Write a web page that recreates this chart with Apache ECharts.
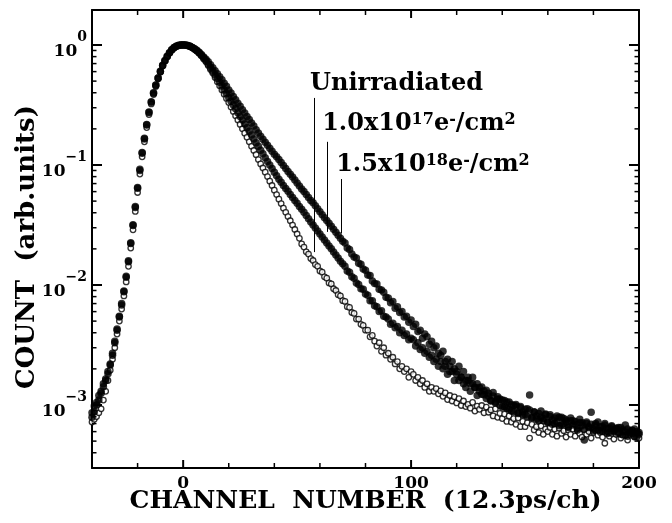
<!DOCTYPE html>
<html>
<head>
<meta charset="utf-8">
<script src="https://cdn.jsdelivr.net/npm/echarts@6/dist/echarts.min.js"></script>
<style>
html, body { margin: 0; padding: 0; background: #fff; }
#chart { width: 672px; height: 523px; }
</style>
</head>
<body>
<div id="chart"></div>
<script>
// Positron lifetime spectra, one value per channel from channel -40 to 200.
const firstChannel = -40;

// Unirradiated sample (open circles)
const countsUnirradiated = [
  7.2e-4, 7.6e-4, 8.0e-4, 8.6e-4, 9.3e-4, 1.1e-3, 1.3e-3, 1.6e-3, 1.95e-3, 2.4e-3,
  3.0e-3, 3.9e-3, 5.0e-3, 6.3e-3, 8.1e-3, 0.0106, 0.0143, 0.0203, 0.0288, 0.041,
  0.059, 0.084, 0.117, 0.156, 0.205, 0.263, 0.323, 0.386, 0.451, 0.521,
  0.594, 0.668, 0.735, 0.799, 0.857, 0.909, 0.949, 0.976, 0.992, 1.0,
  1.0,
  0.998, 0.986, 0.971, 0.951, 0.920, 0.891, 0.855, 0.813, 0.766, 0.724,
  0.676, 0.624, 0.583, 0.537, 0.495, 0.457, 0.422, 0.389, 0.359, 0.331,
  0.304, 0.279, 0.257, 0.237, 0.218, 0.200, 0.184, 0.170, 0.156, 0.143,
  0.132, 0.122, 0.111, 0.102, 0.0944, 0.0871, 0.0800, 0.0733, 0.0675, 0.0617,
  0.0567, 0.0519, 0.0477, 0.0437, 0.0403, 0.0372, 0.0343, 0.0316, 0.0290, 0.0266,
  0.0245, 0.0220, 0.0207, 0.0189, 0.0181, 0.0166, 0.0160, 0.0148, 0.0143, 0.0131,
  0.0128, 0.0117, 0.0114, 0.0104, 0.0102, 0.0093, 0.0090, 0.0083, 0.0081, 0.0074,
  0.0073, 0.0066, 0.0065, 0.0059, 0.0058, 0.0052, 0.0052, 0.0047, 0.0046, 0.0042,
  0.0042, 0.0037, 0.0038, 0.0034, 0.0031, 0.0033, 0.0028, 0.0030, 0.0026, 0.0027,
  0.0024, 0.0025, 0.0022, 0.0023, 0.0020, 0.0021, 0.0019, 0.0020, 0.0017, 0.0019,
  0.0018, 0.0016, 0.0017, 0.0015, 0.0016, 0.0014, 0.0015, 0.0013, 0.0014, 0.0013,
  0.00137, 0.00124, 0.00131, 0.00118, 0.00126, 0.00111, 0.00120, 0.00108, 0.00117, 0.00104,
  0.00113, 0.00099, 0.00108, 0.00097, 0.00101, 0.00094, 0.00105, 0.00089, 0.00098, 0.00092,
  0.00099, 0.00086, 0.00096, 0.00087, 0.00091, 0.00081, 0.00093, 0.00079, 0.00085, 0.00077,
  0.00084, 0.00073, 0.00081, 0.00072, 0.00077, 0.00069, 0.00078, 0.00066, 0.00073, 0.00066,
  0.00071, 0.00053, 0.00069, 0.00062, 0.00066, 0.00059, 0.00067, 0.00057, 0.00063, 0.00060,
  0.00065, 0.00057, 0.00063, 0.00055, 0.00064, 0.00058, 0.00061, 0.00054, 0.00062, 0.00057,
  0.00063, 0.00055, 0.00061, 0.00058, 0.00054, 0.00062, 0.00057, 0.00060, 0.00053, 0.00059,
  0.00061, 0.00056, 0.00059, 0.00054, 0.00048, 0.00060, 0.00055, 0.00058, 0.00052, 0.00057,
  0.00059, 0.00053, 0.00056, 0.00060, 0.00051, 0.00057, 0.00062, 0.00054, 0.00058, 0.00053
];

// 1.0x10^17 e-/cm^2 (filled circles)
const counts1e17 = [
  7.9e-4, 8.8e-4, 1.05e-3, 1.1e-3, 1.25e-3, 1.42e-3, 1.6e-3, 1.82e-3, 2.15e-3, 2.6e-3,
  3.3e-3, 4.2e-3, 5.4e-3, 6.8e-3, 8.8e-3, 0.0116, 0.0156, 0.0222, 0.0313, 0.0442,
  0.064, 0.090, 0.125, 0.165, 0.215, 0.274, 0.334, 0.397, 0.461, 0.530,
  0.602, 0.675, 0.740, 0.803, 0.860, 0.911, 0.950, 0.977, 0.992, 1.0,
  1.0,
  0.998, 0.989, 0.975, 0.955, 0.926, 0.897, 0.862, 0.822, 0.781, 0.741,
  0.692, 0.646, 0.603, 0.562, 0.525, 0.490, 0.455, 0.422, 0.392, 0.363,
  0.339, 0.316, 0.294, 0.272, 0.254, 0.237, 0.220, 0.204, 0.191, 0.178,
  0.165, 0.153, 0.143, 0.133, 0.124, 0.115, 0.107, 0.100, 0.0933, 0.0871,
  0.0813, 0.0759, 0.0717, 0.0676, 0.0638, 0.0603, 0.0569, 0.0537, 0.0507, 0.0479,
  0.0452, 0.0427, 0.0403, 0.0380, 0.0357, 0.0335, 0.0316, 0.0299, 0.0282, 0.0266,
  0.0251, 0.0237, 0.0224, 0.0211, 0.0200, 0.0188, 0.0178, 0.0168, 0.0158, 0.0150,
  0.0143, 0.0131, 0.0128, 0.0117, 0.0114, 0.0104, 0.0101, 0.0093, 0.0092, 0.0084,
  0.0082, 0.0074, 0.0074, 0.0067, 0.0066, 0.0060, 0.0061, 0.0055, 0.0054, 0.0052,
  0.0047, 0.0048, 0.0044, 0.0045, 0.0040, 0.0042, 0.0038, 0.0039, 0.0035, 0.0036,
  0.0035, 0.0031, 0.0033, 0.0029, 0.0030, 0.0027, 0.0028, 0.0025, 0.0026, 0.0023,
  0.0024, 0.0021, 0.0023, 0.0020, 0.0021, 0.0018, 0.0019, 0.0019, 0.0016, 0.0018,
  0.0016, 0.0017, 0.0015, 0.0014, 0.0016, 0.0013, 0.0015, 0.0014, 0.0012, 0.0014,
  0.00123, 0.00131, 0.00113, 0.00125, 0.00108, 0.00119, 0.00104, 0.00112, 0.00099, 0.00110,
  0.00096, 0.00106, 0.00092, 0.00101, 0.00088, 0.00098, 0.00086, 0.00095, 0.00083, 0.00092,
  0.00080, 0.00091, 0.00078, 0.00087, 0.00076, 0.00085, 0.00079, 0.00074, 0.00083, 0.00071,
  0.00080, 0.00069, 0.00078, 0.00072, 0.00067, 0.00079, 0.00070, 0.00075, 0.00065, 0.00074,
  0.00068, 0.00073, 0.00062, 0.00071, 0.00067, 0.00063, 0.00072, 0.00065, 0.00069, 0.00061,
  0.00070, 0.00062, 0.00066, 0.00060, 0.00068, 0.00063, 0.00059, 0.00066, 0.00061, 0.00064,
  0.00058, 0.00065, 0.00060, 0.00056, 0.00063, 0.00059, 0.00061, 0.00055, 0.00060, 0.00057
];

// 1.5x10^18 e-/cm^2 (filled circles)
const counts15e18 = [
  8.6e-4, 9.8e-4, 1.0e-3, 1.2e-3, 1.3e-3, 1.5e-3, 1.65e-3, 1.9e-3, 2.2e-3, 2.7e-3,
  3.4e-3, 4.3e-3, 5.5e-3, 7.0e-3, 8.9e-3, 0.0118, 0.0159, 0.0225, 0.0318, 0.045,
  0.065, 0.092, 0.127, 0.167, 0.217, 0.276, 0.336, 0.399, 0.463, 0.532,
  0.604, 0.677, 0.742, 0.805, 0.862, 0.913, 0.952, 0.978, 0.994, 1.0,
  1.0,
  0.998, 0.989, 0.977, 0.955, 0.930, 0.902, 0.871, 0.832, 0.794, 0.759,
  0.724, 0.684, 0.646, 0.610, 0.575, 0.543, 0.513, 0.479, 0.452, 0.422,
  0.398, 0.372, 0.350, 0.327, 0.309, 0.288, 0.271, 0.254, 0.239, 0.224,
  0.211, 0.197, 0.185, 0.174, 0.164, 0.155, 0.146, 0.138, 0.130, 0.123,
  0.117, 0.111, 0.105, 0.0989, 0.0933, 0.0881, 0.0838, 0.0794, 0.0750, 0.0708,
  0.0668, 0.0631, 0.0600, 0.0569, 0.0537, 0.0507, 0.0484, 0.0457, 0.0431, 0.0407,
  0.0384, 0.0363, 0.0345, 0.0327, 0.0309, 0.0292, 0.0275, 0.0260, 0.0245, 0.0232,
  0.0224, 0.0203, 0.0198, 0.0181, 0.0171, 0.0168, 0.0152, 0.0149, 0.0136, 0.0133,
  0.0121, 0.0120, 0.0108, 0.0103, 0.0102, 0.0092, 0.0091, 0.0087, 0.0079, 0.0078,
  0.0071, 0.0073, 0.0064, 0.0066, 0.0059, 0.0060, 0.0054, 0.0055, 0.0049, 0.0051,
  0.0045, 0.0047, 0.0041, 0.0042, 0.0036, 0.0039, 0.0037, 0.0032, 0.0034, 0.0030,
  0.0031, 0.0027, 0.0026, 0.0028, 0.0023, 0.0024, 0.0021, 0.0023, 0.0020, 0.0019,
  0.0021, 0.0017, 0.0019, 0.0016, 0.0017, 0.0015, 0.0017, 0.0014, 0.0015, 0.0013,
  0.00141, 0.00122, 0.00133, 0.00118, 0.00109, 0.00127, 0.00106, 0.00117, 0.00112, 0.00096,
  0.00109, 0.00094, 0.00106, 0.00089, 0.00099, 0.00101, 0.00085, 0.00097, 0.00088, 0.00083,
  0.00093, 0.00121, 0.00079, 0.00088, 0.00081, 0.00074, 0.00089, 0.00077, 0.00084, 0.00072,
  0.00083, 0.00075, 0.00070, 0.00081, 0.00079, 0.00068, 0.00077, 0.00072, 0.00066, 0.00078,
  0.00074, 0.00069, 0.00064, 0.00076, 0.00071, 0.00051, 0.00070, 0.00066, 0.00087, 0.00063,
  0.00068, 0.00072, 0.00061, 0.00066, 0.00070, 0.00058, 0.00064, 0.00067, 0.00060, 0.00063,
  0.00065, 0.00057, 0.00062, 0.00068, 0.00055, 0.00061, 0.00058, 0.00063, 0.00054, 0.00059
];

// Axis ticks
const xMajorTicks = [0, 100, 200];
const xMinorTicks = [-20, 20, 40, 60, 80, 120, 140, 160, 180];
const yDecades = [1, 0.1, 0.01, 0.001];
const yMinorTicks = [
  0.9, 0.8, 0.7, 0.6, 0.5, 0.4, 0.3, 0.2,
  0.09, 0.08, 0.07, 0.06, 0.05, 0.04, 0.03, 0.02,
  0.009, 0.008, 0.007, 0.006, 0.005, 0.004, 0.003, 0.002,
  0.0009, 0.0008, 0.0007, 0.0006, 0.0005, 0.0004
];

// Curve labels and their leader lines (channel, count)
const curveLabels = [
  '{t|Unirradiated}',
  '{t|1.0x10}{s|17}{t|e}{s|-}{t|/cm}{s|2}',
  '{t|1.5x10}{s|18}{t|e}{s|-}{t|/cm}{s|2}'
];
const labelChannel = [55.9, 61.2, 67.35];
const labelCount = [0.371, 0.172, 0.0794];
const leaderChannel = [57.7, 63.1, 69.2];
const leaderTop = [0.362, 0.156, 0.0764];
const leaderBottom = [0.0188, 0.0277, 0.027];

const FONT = 'DejaVu Serif';

function toPairs(values) {
  return values.map((v, i) => [firstChannel + i, v]);
}

const xRange = { min: -40, max: 200 };
const yRange = { min: 2.985e-4, max: 1.957 };

// The y axes stay on the frame edges: they are tied to a hidden x axis
// whose extent does not include zero.
const FRAME_X_AXIS = 2;

const frameLine = { show: true, onZeroAxisIndex: FRAME_X_AXIS, lineStyle: { color: '#000', width: 2 } };

const xAxes = [
  {
    type: 'value', position: 'bottom', min: xRange.min, max: xRange.max, interval: 20,
    axisLine: { show: true, lineStyle: { color: '#000', width: 2 } },
    axisTick: { show: false }, splitLine: { show: false },
    axisLabel: { show: true, customValues: xMajorTicks, margin: 7, color: '#000',
                 fontFamily: FONT, fontWeight: 'bold', fontSize: 17 },
    name: 'CHANNEL  NUMBER  (12.3ps/ch)', nameLocation: 'middle', nameGap: 21, nameMoveOverlap: false,
    nameTextStyle: { fontFamily: FONT, fontWeight: 'bold', fontSize: 25, color: '#000' }
  },
  {
    type: 'value', position: 'top', min: xRange.min, max: xRange.max, interval: 20,
    axisLine: { show: true, lineStyle: { color: '#000', width: 2 } },
    axisTick: { show: false }, splitLine: { show: false }, axisLabel: { show: false }
  },
  { type: 'value', show: false, min: 1, max: 2 }
];

const yAxes = [
  {
    type: 'log', logBase: 10, position: 'left', min: yRange.min, max: yRange.max,
    axisLine: frameLine, axisTick: { show: false }, splitLine: { show: false },
    axisLabel: {
      show: true, customValues: yDecades, margin: 5,
      formatter: function (v) {
        const e = Math.round(Math.log10(v));
        return '{b|10}{s|' + (e < 0 ? '\u2212' + (-e) : String(e)) + '}';
      },
      rich: {
        b: { fontFamily: FONT, fontWeight: 'bold', fontSize: 17, color: '#000', lineHeight: 30, verticalAlign: 'bottom' },
        s: { fontFamily: FONT, fontWeight: 'bold', fontSize: 14, color: '#000', lineHeight: 14, verticalAlign: 'top' }
      }
    },
    name: 'COUNT  (arb.units)', nameLocation: 'middle', nameGap: 52, nameMoveOverlap: false,
    nameTextStyle: { fontFamily: FONT, fontWeight: 'bold', fontSize: 26, color: '#000', padding: [0, 16, 0, 0] }
  },
  {
    type: 'log', logBase: 10, position: 'right', min: yRange.min, max: yRange.max,
    axisLine: frameLine, axisTick: { show: false }, splitLine: { show: false }, axisLabel: { show: false }
  }
];

// Inward tick marks on all four sides of the frame: [value, side (1 = x, 2 = y), length]
const TICK_X = 1, TICK_Y = 2;
const frameTickData = [].concat(
  xMinorTicks.map(v => [v, TICK_X, 5]),
  xMajorTicks.map(v => [v, TICK_X, 8]),
  yMinorTicks.map(v => [v, TICK_Y, 4.5]),
  yDecades.map(v => [v, TICK_Y, 10])
);

function renderFrameTick(params, api) {
  const v = api.value(0);
  const side = api.value(1);
  const len = api.value(2);
  const cs = params.coordSys;
  const width = len > 6 ? 2 : 1.5;
  const style = { stroke: '#000', lineWidth: width };
  if (side === TICK_X) {
    const px = api.coord([v, yRange.max])[0];
    const bottom = cs.y + cs.height;
    return {
      type: 'group',
      children: [
        { type: 'line', shape: { x1: px, y1: bottom, x2: px, y2: bottom - len }, style: style },
        { type: 'line', shape: { x1: px, y1: cs.y, x2: px, y2: cs.y + len }, style: style }
      ]
    };
  }
  const py = api.coord([xRange.min, v])[1];
  const right = cs.x + cs.width;
  return {
    type: 'group',
    children: [
      { type: 'line', shape: { x1: cs.x, y1: py, x2: cs.x + len, y2: py }, style: style },
      { type: 'line', shape: { x1: right, y1: py, x2: right - len, y2: py }, style: style }
    ]
  };
}

const labelRich = {
  t: { fontFamily: FONT, fontWeight: 'bold', fontSize: 24, color: '#000', lineHeight: 24, verticalAlign: 'bottom' },
  s: { fontFamily: FONT, fontWeight: 'bold', fontSize: 16, color: '#000', lineHeight: 18, verticalAlign: 'top' }
};

const openStyle = { color: '#fff', borderColor: '#000', borderWidth: 1.3 };
const filledStyle = { color: '#000' };

const option = {
  animation: false,
  backgroundColor: '#fff',
  grid: { left: 92, right: 33, top: 10, bottom: 55, containLabel: false, outerBoundsMode: 'none' },
  xAxis: xAxes,
  yAxis: yAxes,
  series: [
    {
      name: 'Unirradiated', type: 'scatter', xAxisIndex: 0, yAxisIndex: 0,
      symbol: 'circle', symbolSize: 5.5, itemStyle: openStyle, silent: true,
      data: toPairs(countsUnirradiated),
      markLine: {
        silent: true, symbol: 'none', animation: false,
        lineStyle: { color: '#000', width: 1, type: 'solid' },
        label: { show: false },
        data: leaderChannel.map((c, i) => [
          { coord: [c, leaderTop[i]] },
          { coord: [c, leaderBottom[i]] }
        ])
      },
      markPoint: {
        silent: true, symbol: 'rect', symbolSize: 1,
        itemStyle: { color: 'rgba(0,0,0,0)' },
        data: curveLabels.map((text, i) => ({
          coord: [labelChannel[i], labelCount[i]],
          label: {
            show: true, position: [0, 0], align: 'left', verticalAlign: 'bottom',
            formatter: text, rich: labelRich
          }
        }))
      }
    },
    {
      name: '1.0x10^17', type: 'scatter', xAxisIndex: 0, yAxisIndex: 0,
      symbol: 'circle', symbolSize: 7.5, itemStyle: filledStyle, silent: true,
      data: toPairs(counts1e17)
    },
    {
      name: '1.5x10^18', type: 'scatter', xAxisIndex: 0, yAxisIndex: 0,
      symbol: 'circle', symbolSize: 7.5, itemStyle: filledStyle, silent: true,
      data: toPairs(counts15e18)
    },
    {
      name: 'frame ticks', type: 'custom', xAxisIndex: 0, yAxisIndex: 0,
      silent: true, clip: false, z: 5,
      renderItem: renderFrameTick,
      data: frameTickData
    }
  ]
};

const chart = echarts.init(document.getElementById('chart'), null, { renderer: 'canvas' });
chart.setOption(option);
</script>
</body>
</html>
